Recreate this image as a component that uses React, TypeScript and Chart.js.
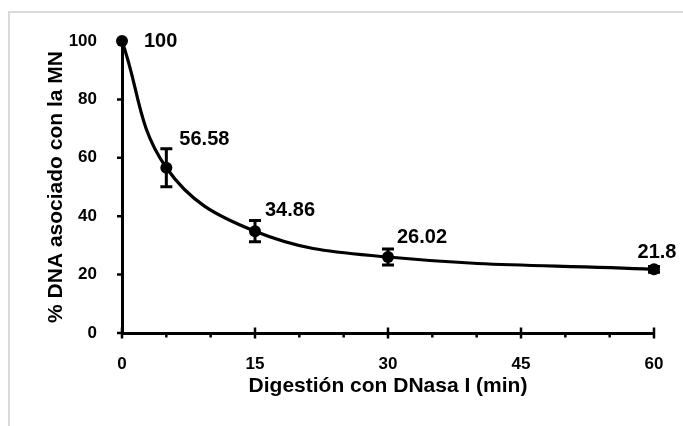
import React, { useEffect, useRef } from "react";
import { Chart, registerables } from "chart.js";

Chart.register(...registerables);

// ---- data ----
const digestionMinutes = [0, 5, 15, 30, 60];
const dnaPercent = [100, 56.58, 34.86, 26.02, 21.8];
const dnaError = [0, 6.5, 3.65, 2.75, 1];
const pointLabels = ["100", "56.58", "34.86", "26.02", "21.8"];
const xTickValues = [0, 15, 30, 45, 60];
const xMinorTickValues = [5, 10, 20, 25, 35, 40, 50, 55];
const yTickValues = [0, 20, 40, 60, 80, 100];
const xTitle = "Digestión con DNasa I (min)";
const yTitle = "% DNA asociado con la MN";

// label placement (style): [dx, dy, align]
const labelPlacement: [number, number, CanvasTextAlign][] = [
  [22, 0.5, "left"],
  [13, -28, "left"],
  [10, -21, "left"],
  [9, -20, "left"],
  [3, -16.5, "center"],
];

const FONT = "'Liberation Sans', Arial, Helvetica, sans-serif";

const decorPlugin = {
  id: "decor",
  afterDatasetsDraw(chart: any) {
    const ctx = chart.ctx as CanvasRenderingContext2D;
    const xs = chart.scales.x;
    const ys = chart.scales.y;
    ctx.save();
    // error bars
    ctx.strokeStyle = "#000";
    ctx.lineWidth = 3;
    digestionMinutes.forEach((t, i) => {
      const e = dnaError[i];
      if (!e) return;
      const px = xs.getPixelForValue(t);
      const top = ys.getPixelForValue(dnaPercent[i] + e);
      const bot = ys.getPixelForValue(dnaPercent[i] - e);
      ctx.beginPath();
      ctx.moveTo(px, top);
      ctx.lineTo(px, bot);
      ctx.moveTo(px - 6, top);
      ctx.lineTo(px + 6, top);
      ctx.moveTo(px - 6, bot);
      ctx.lineTo(px + 6, bot);
      ctx.stroke();
    });
    // data labels
    ctx.fillStyle = "#000";
    ctx.font = `bold 20px ${FONT}`;
    ctx.textBaseline = "middle";
    digestionMinutes.forEach((t, i) => {
      const px = xs.getPixelForValue(t);
      const py = ys.getPixelForValue(dnaPercent[i]);
      const [dx, dy, align] = labelPlacement[i];
      ctx.textAlign = align;
      ctx.fillText(pointLabels[i], px + dx, py + dy);
    });
    ctx.restore();
  },
  afterDraw(chart: any) {
    const ctx = chart.ctx as CanvasRenderingContext2D;
    const xs = chart.scales.x;
    const ys = chart.scales.y;
    const area = chart.chartArea;
    ctx.save();
    ctx.strokeStyle = "#000";
    ctx.lineWidth = 2.5;
    ctx.beginPath();
    yTickValues.forEach((v) => {
      const py = ys.getPixelForValue(v);
      ctx.moveTo(area.left - 5, py);
      ctx.lineTo(area.left, py);
    });
    xTickValues.forEach((v) => {
      const px = xs.getPixelForValue(v);
      ctx.moveTo(px, area.bottom - 5.5);
      ctx.lineTo(px, area.bottom + 5.5);
    });
    xMinorTickValues.forEach((v) => {
      const px = xs.getPixelForValue(v);
      ctx.moveTo(px, area.bottom);
      ctx.lineTo(px, area.bottom + 4.5);
    });
    ctx.stroke();
    ctx.restore();
  },
};

export default function App() {
  const canvasRef = useRef<HTMLCanvasElement | null>(null);

  useEffect(() => {
    const canvas = canvasRef.current;
    if (!canvas) return;
    const chart = new Chart(canvas, {
      type: "line",
      data: {
        datasets: [
          {
            label: "DNA",
            data: digestionMinutes.map((t, i) => ({ x: t, y: dnaPercent[i] })),
            borderColor: "#000",
            backgroundColor: "#000",
            borderWidth: 3.2,
            pointRadius: 6,
            pointBackgroundColor: "#000",
            pointBorderColor: "#000",
            pointBorderWidth: 0,
            tension: 0.4,
            clip: false as any,
            fill: false,
          },
        ],
      },
      options: {
        animation: false,
        responsive: false,
        devicePixelRatio: 1,
        layout: { padding: { top: 41, right: 29, left: 0, bottom: 0 } },
        plugins: {
          legend: { display: false },
          tooltip: { enabled: false },
        },
        scales: {
          x: {
            type: "linear",
            min: 0,
            max: 60,
            afterFit: (scale: any) => {
              scale.height = 93;
            },
            afterBuildTicks: (scale: any) => {
              scale.ticks = xTickValues.map((v) => ({ value: v }));
            },
            grid: { display: false },
            border: { display: true, color: "#000", width: 3 },
            ticks: {
              color: "#000",
              padding: 13,
              font: { family: FONT, size: 17, weight: "bold" },
            },
            title: {
              display: true,
              text: xTitle,
              color: "#000",
              font: { family: FONT, size: 21, weight: "bold" },
              padding: { top: 0, bottom: 27 },
            },
          },
          y: {
            type: "linear",
            min: 0,
            max: 100,
            afterFit: (scale: any) => {
              scale.width = 122;
            },
            afterBuildTicks: (scale: any) => {
              scale.ticks = yTickValues.map((v) => ({ value: v }));
            },
            grid: { display: false },
            border: { display: true, color: "#000", width: 3 },
            ticks: {
              color: "#000",
              padding: 17,
              font: { family: FONT, size: 17, weight: "bold" },
            },
            title: {
              display: true,
              text: yTitle,
              color: "#000",
              font: { family: FONT, size: 21, weight: "bold" },
              padding: { top: 44, bottom: 0 },
            },
          },
        },
      },
      plugins: [decorPlugin],
    });
    return () => chart.destroy();
  }, []);

  return (
    <div
      style={{
        position: "fixed",
        left: 0,
        top: 0,
        width: 683,
        height: 426,
        overflow: "hidden",
        background: "#fff",
      }}
    >
      <div
        style={{
          position: "absolute",
          left: 8,
          top: 11,
          width: 800,
          height: 600,
          borderLeft: "2px solid #d9d9d9",
          borderTop: "2px solid #d9d9d9",
        }}
      />
      <canvas
        ref={canvasRef}
        width={683}
        height={426}
        style={{ position: "absolute", left: 0, top: 0, width: 683, height: 426 }}
      />
    </div>
  );
}
